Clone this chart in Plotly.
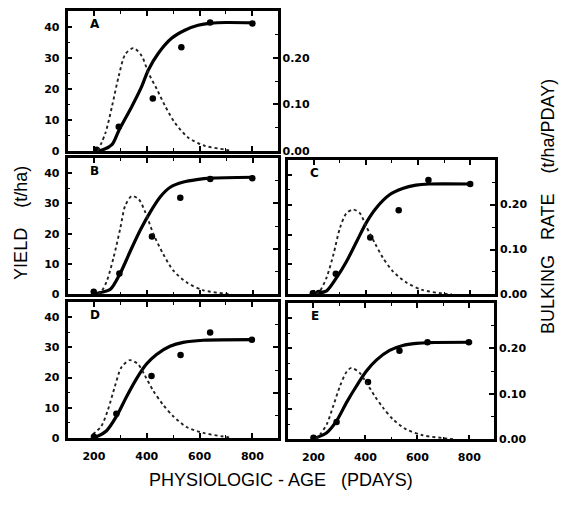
import plotly.graph_objects as go

# ---------------- data ----------------
panel_labels = ["A", "B", "C", "D", "E"]

A_fit_x = [200, 231, 269, 294, 344, 381, 406, 444, 494, 544, 594, 644, 700, 806]
A_fit_y = [0.0, 0.3, 2.1, 6.5, 14.4, 20.8, 26.1, 31.5, 36.3, 38.9, 40.5, 41.2, 41.4, 41.3]
A_rate_x = [215, 244, 269, 294, 319, 350, 381, 406, 438, 469, 506, 556, 619, 694, 720]
A_rate_y = [0.0, 0.039, 0.097, 0.161, 0.208, 0.221, 0.204, 0.168, 0.133, 0.097, 0.061, 0.029, 0.011, 0.003, 0.0]
A_obs_x = [210, 294, 423, 531, 640, 800]
A_obs_y = [0.4, 7.8, 16.9, 33.4, 41.4, 41.1]

B_fit_x = [200, 224, 262, 300, 337, 375, 413, 450, 488, 538, 588, 639, 802]
B_fit_y = [0.0, 0.6, 1.7, 7.1, 14.2, 21.2, 27.2, 32.1, 35.3, 37.0, 37.8, 38.3, 38.6]
B_rate_x = [215, 230, 249, 274, 300, 318, 343, 369, 394, 425, 462, 500, 551, 613, 690, 720]
B_rate_y = [0.0, 0.008, 0.030, 0.081, 0.147, 0.195, 0.216, 0.209, 0.180, 0.132, 0.088, 0.052, 0.026, 0.009, 0.002, 0.0]
B_obs_x = [199, 296, 419, 526, 639, 798]
B_obs_y = [0.9, 6.9, 19.1, 31.8, 38.0, 38.3]

C_fit_x = [200, 213, 250, 288, 326, 364, 402, 440, 491, 541, 592, 642, 806]
C_fit_y = [0.0, 0.4, 1.2, 5.6, 11.0, 17.5, 24.0, 28.9, 33.3, 35.4, 36.5, 36.9, 36.9]
C_rate_x = [210, 225, 250, 276, 301, 326, 352, 377, 402, 434, 465, 503, 554, 617, 693, 730]
C_rate_y = [0.0, 0.008, 0.038, 0.089, 0.148, 0.181, 0.189, 0.181, 0.151, 0.115, 0.082, 0.052, 0.027, 0.010, 0.002, 0.0]
C_obs_x = [197, 220, 285, 417, 526, 640, 800]
C_obs_y = [0.4, 0.5, 6.9, 19.0, 28.1, 38.2, 36.9]

D_fit_x = [200, 247, 285, 323, 361, 399, 437, 488, 538, 614, 804]
D_fit_y = [0.0, 2.3, 7.1, 13.6, 19.6, 24.5, 27.7, 30.4, 31.7, 32.4, 32.6]
D_rate_x = [196, 228, 253, 279, 304, 336, 367, 393, 424, 462, 500, 551, 614, 690, 720]
D_rate_y = [0.008, 0.026, 0.062, 0.113, 0.156, 0.172, 0.163, 0.138, 0.105, 0.073, 0.048, 0.024, 0.011, 0.003, 0.0]
D_obs_x = [200, 285, 418, 528, 640, 798]
D_obs_y = [0.4, 8.0, 20.5, 27.5, 35.0, 32.6]

E_fit_x = [200, 213, 251, 289, 327, 365, 404, 442, 493, 544, 595, 646, 811]
E_fit_y = [0.0, 0.6, 2.2, 6.1, 12.1, 17.5, 22.5, 26.1, 29.3, 30.9, 31.6, 31.9, 32.0]
E_rate_x = [210, 226, 251, 276, 302, 327, 346, 378, 404, 436, 467, 506, 557, 620, 696, 740]
E_rate_y = [0.0, 0.011, 0.033, 0.073, 0.117, 0.148, 0.157, 0.146, 0.124, 0.095, 0.070, 0.044, 0.022, 0.009, 0.003, 0.0]
E_obs_x = [200, 289, 410, 531, 639, 798]
E_obs_y = [0.5, 5.7, 18.9, 29.2, 32.0, 32.0]

x_ticks = [200, 400, 600, 800]
yield_ticks = [0, 10, 20, 30, 40]
rate_ticks = [0.0, 0.1, 0.2]
rate_tick_text = ["0.00", "0.10", "0.20"]

fits = [(A_fit_x, A_fit_y), (B_fit_x, B_fit_y), (C_fit_x, C_fit_y), (D_fit_x, D_fit_y), (E_fit_x, E_fit_y)]
rates = [(A_rate_x, A_rate_y), (B_rate_x, B_rate_y), (C_rate_x, C_rate_y), (D_rate_x, D_rate_y), (E_rate_x, E_rate_y)]
obs = [(A_obs_x, A_obs_y), (B_obs_x, B_obs_y), (C_obs_x, C_obs_y), (D_obs_x, D_obs_y), (E_obs_x, E_obs_y)]

# ---------------- layout (pixel boxes of the panels) ----------------
W, H = 564, 508
boxes = [  # left, right, top, bottom in pixels
    (67.5, 277.5, 11.5, 153.0),
    (67.5, 278.0, 160.0, 298.5),
    (287.5, 495.0, 162.0, 298.5),
    (67.5, 277.5, 306.5, 444.0),
    (287.5, 494.0, 307.0, 445.5),
]
show_left = [True, True, False, True, False]
show_right = [True, False, True, False, True]
show_x = [False, False, False, True, True]

tick_font = dict(family="DejaVu Sans", size=11, color="black", weight="bold")
title_font = dict(family="Liberation Sans", size=18, color="black")

fig = go.Figure()
layout = dict(
    width=W, height=H,
    margin=dict(l=0, r=0, t=0, b=0),
    paper_bgcolor="white", plot_bgcolor="white",
    showlegend=False,
)
annotations = []

for i in range(5):
    n = i + 1
    xa = "x" if n == 1 else f"x{n}"
    yl_id = 2 * n - 1
    yr_id = 2 * n
    yl = "y" if yl_id == 1 else f"y{yl_id}"
    yr = f"y{yr_id}"
    l, r, t, b = boxes[i]
    xdom = [l / W, r / W]
    ydom = [1 - b / H, 1 - t / H]

    fx, fy = fits[i]
    rx, ry = rates[i]
    ox, oy = obs[i]
    fig.add_trace(go.Scatter(x=rx, y=ry, mode="lines", xaxis=xa, yaxis=yr,
                             line=dict(color="#222", width=1.9, dash="dot", shape="spline", smoothing=0.8)))
    fig.add_trace(go.Scatter(x=fx, y=fy, mode="lines", xaxis=xa, yaxis=yl,
                             line=dict(color="black", width=3.2, shape="spline", smoothing=0.8)))
    fig.add_trace(go.Scatter(x=ox, y=oy, mode="markers", xaxis=xa, yaxis=yl,
                             marker=dict(color="black", size=6.5)))

    xkey = "xaxis" if n == 1 else f"xaxis{n}"
    ylkey = "yaxis" if yl_id == 1 else f"yaxis{yl_id}"
    yrkey = f"yaxis{yr_id}"
    layout[xkey] = dict(
        domain=xdom, anchor=yl, range=[100, 895],
        tickvals=x_ticks, showticklabels=show_x[i], tickfont=tick_font,
        ticks="inside", ticklen=5, tickwidth=1.5, tickcolor="black",
        minor=dict(ticks="inside", dtick=100, tick0=100, ticklen=3, tickwidth=1.2, tickcolor="black"),
        showline=True, linewidth=2.6, linecolor="black", mirror="ticks",
        showgrid=False, zeroline=False, fixedrange=True, ticklabelstandoff=6,
    )
    layout[ylkey] = dict(
        domain=ydom, anchor=xa, range=[0, 45],
        tickvals=yield_ticks, showticklabels=show_left[i], tickfont=tick_font,
        ticks="inside", ticklen=5, tickwidth=1.5, tickcolor="black",
        minor=dict(ticks="inside", dtick=5, ticklen=3, tickwidth=1.2, tickcolor="black"),
        showline=True, linewidth=2.6, linecolor="black",
        showgrid=False, zeroline=False, fixedrange=True, ticklabelstandoff=3,
    )
    layout[yrkey] = dict(
        overlaying=yl, anchor=xa, side="right", range=[0, 0.3],
        tickvals=rate_ticks, ticktext=rate_tick_text, showticklabels=show_right[i], tickfont=tick_font,
        ticks="inside", ticklen=5, tickwidth=1.5, tickcolor="black",
        minor=dict(ticks="inside", dtick=0.05, ticklen=3, tickwidth=1.2, tickcolor="black"),
        showline=True, linewidth=2.6, linecolor="black",
        showgrid=False, zeroline=False, fixedrange=True, ticklabelstandoff=0,
    )
    annotations.append(dict(
        text=f"<b>{panel_labels[i]}</b>", x=(l + 27) / W, y=1 - (t + 13) / H,
        xanchor="center", yanchor="middle",
        xref="paper", yref="paper", showarrow=False,
        font=dict(family="DejaVu Sans", size=12, color="black"),
    ))

nb = "\u00a0"
annotations.append(dict(text=f"PHYSIOLOGIC - AGE{nb*3}(PDAYS)", x=281 / W, y=1 - 487 / H,
                        xanchor="center", yanchor="middle",
                        xref="paper", yref="paper", showarrow=False, font=title_font))
annotations.append(dict(text=f"YIELD{nb*4}(t/ha)", x=21 / W, y=1 - 226 / H, textangle=-90,
                        xanchor="center", yanchor="middle",
                        xref="paper", yref="paper", showarrow=False, font=title_font))
annotations.append(dict(text=f"BULKING{nb*3}RATE{nb*4}(t/ha/PDAY)", x=548 / W, y=1 - 210 / H, textangle=-90,
                        xanchor="center", yanchor="middle",
                        xref="paper", yref="paper", showarrow=False, font=title_font))
layout["annotations"] = annotations
fig.update_layout(**layout)
fig.write_html("out.html")
